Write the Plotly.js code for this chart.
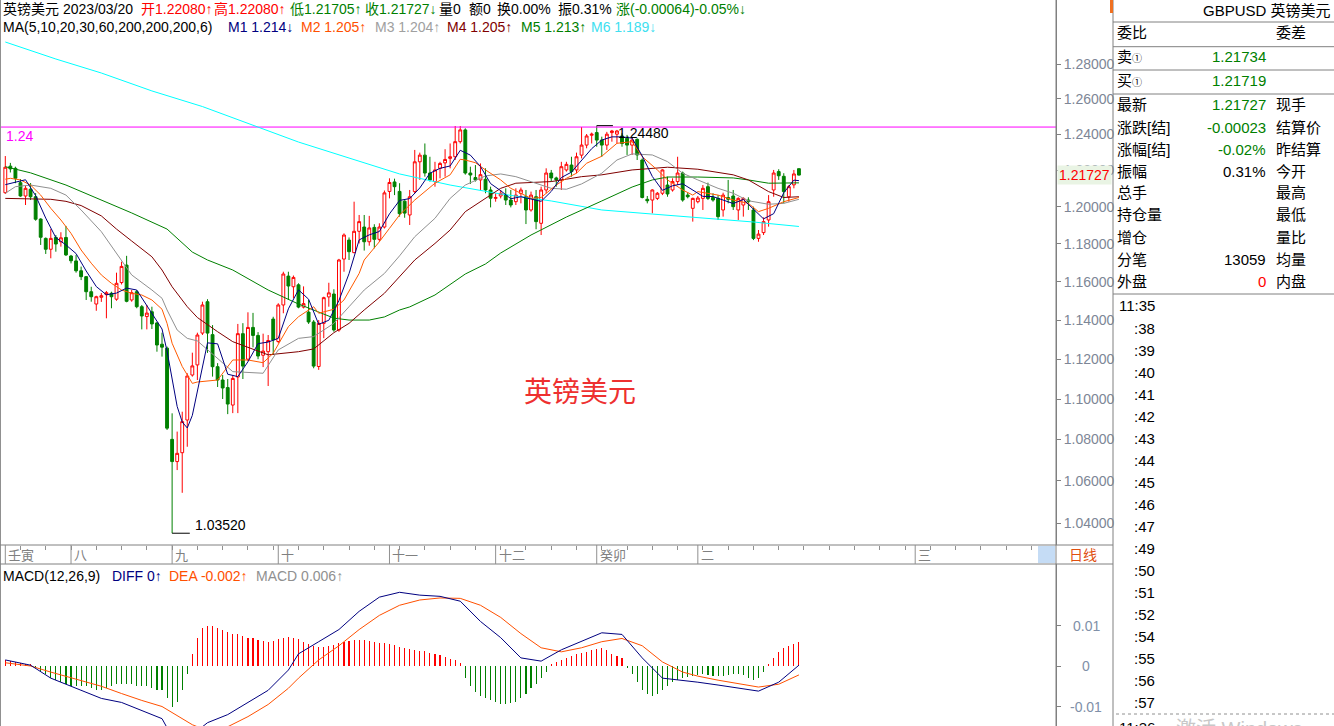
<!DOCTYPE html>
<html><head><meta charset="utf-8">
<script src="https://cdn.plot.ly/plotly-3.0.1.min.js"></script>
<style>html,body{margin:0;padding:0;background:#fff;overflow:hidden}#chart{width:1334px;height:726px}</style>
</head><body><div id="chart"></div>
<script>
// ---------- DATA (daily GBPUSD candles, index 0 .. 157) ----------
const opens = [
1.2076,1.2222,1.2210,1.2131,1.2058,1.2095,1.2054,1.1933,1.1829,1.1771,
1.1834,1.1811,1.1834,1.1735,1.1709,1.1657,1.1626,1.1547,1.1483,1.1518,
1.1532,1.1539,1.1508,1.1595,1.1687,1.1504,1.1547,1.1469,1.1418,1.1443,
1.1385,1.1276,1.1256,1.0801,1.0693,1.0736,1.0896,1.1120,1.1171,1.1333,
1.1495,1.1325,1.1162,1.1095,1.1057,1.0970,1.1110,1.1330,1.1200,1.1362,
1.1321,1.1220,1.1238,1.1405,1.1290,1.1478,1.1629,1.1573,1.1583,1.1467,
1.1441,1.1390,1.1163,1.1383,1.1520,1.1535,1.1349,1.1719,1.1820,1.1753,
1.1867,1.1890,1.1811,1.1888,1.1824,1.1890,1.2083,1.2135,1.2083,1.2030,
1.1955,1.2082,1.2246,1.2283,1.2184,1.2137,1.2210,1.2240,1.2265,1.2274,
1.2358,1.2424,1.2184,1.2159,1.2146,1.2150,1.2091,1.2045,1.2058,1.2063,
1.2036,1.2027,1.2072,1.2054,1.1982,1.2054,1.1910,1.2091,1.2184,1.2157,
1.2146,1.2201,1.2228,1.2201,1.2283,1.2339,1.2394,1.2409,1.2367,1.2339,
1.2409,1.2400,1.2390,1.2377,1.2339,1.2371,1.2256,1.2040,1.2036,1.2045,
1.2073,1.2118,1.2091,1.2137,1.2184,1.2063,1.1991,1.2027,1.2045,1.2109,
1.2050,1.2045,1.1982,1.2050,1.2058,1.1982,1.2009,1.2036,1.1982,1.1829,
1.1860,1.1928,1.2091,1.2192,1.2166,1.2054,1.2119,1.2208];
const highs = [
1.2278,1.2240,1.2219,1.2151,1.2113,1.2129,1.2074,1.1937,1.1834,1.1879,
1.1847,1.1862,1.1896,1.1741,1.1741,1.1679,1.1629,1.1573,1.1526,1.1540,
1.1551,1.1547,1.1647,1.1705,1.1736,1.1556,1.1556,1.1478,1.1478,1.1469,
1.1390,1.1335,1.1264,1.0929,1.0839,1.0937,1.1129,1.1233,1.1335,1.1495,
1.1508,1.1374,1.1180,1.1120,1.1100,1.1120,1.1380,1.1384,1.1440,1.1437,
1.1338,1.1330,1.1323,1.1417,1.1487,1.1652,1.1652,1.1632,1.1591,1.1575,
1.1504,1.1400,1.1400,1.1521,1.1594,1.1560,1.1720,1.1856,1.1834,1.2027,
1.1955,1.1955,1.1950,1.1905,1.1910,1.2088,1.2155,1.2153,1.2128,1.2035,
1.2091,1.2312,1.2297,1.2348,1.2274,1.2246,1.2246,1.2316,1.2348,1.2446,
1.2446,1.2433,1.2219,1.2228,1.2237,1.2210,1.2109,1.2073,1.2091,1.2100,
1.2091,1.2100,1.2104,1.2091,1.2082,1.2091,1.2109,1.2210,1.2201,1.2164,
1.2246,1.2246,1.2274,1.2297,1.2440,1.2401,1.2409,1.2448,1.2386,1.2413,
1.2424,1.2424,1.2405,1.2396,1.2377,1.2377,1.2265,1.2058,1.2095,1.2080,
1.2205,1.2164,1.2155,1.2274,1.2192,1.2076,1.2049,1.2058,1.2118,1.2131,
1.2073,1.2063,1.2076,1.2146,1.2091,1.2051,1.2051,1.2051,1.2000,1.1874,
1.1942,1.2063,1.2201,1.2205,1.2183,1.2118,1.2201,1.2208];
const lows = [
1.2069,1.2187,1.2128,1.2054,1.2009,1.2036,1.1924,1.1794,1.1746,1.1723,
1.1758,1.1785,1.1735,1.1696,1.1647,1.1608,1.1504,1.1495,1.1448,1.1494,
1.1409,1.1461,1.1500,1.1585,1.1492,1.1495,1.1461,1.1352,1.1352,1.1354,
1.1238,1.1213,1.0847,1.0352,1.0652,1.0543,1.0765,1.1112,1.1095,1.1323,
1.1232,1.1112,1.1060,1.1000,1.0925,1.0930,1.0930,1.1100,1.1190,1.1260,
1.1200,1.1160,1.1065,1.1222,1.1281,1.1435,1.1504,1.1513,1.1461,1.1460,
1.1380,1.1154,1.1146,1.1307,1.1469,1.1340,1.1340,1.1652,1.1714,1.1750,
1.1802,1.1764,1.1790,1.1776,1.1811,1.1882,1.2045,1.2063,1.1946,1.1940,
1.1901,1.2073,1.2146,1.2164,1.2137,1.2109,1.2155,1.2164,1.2210,1.2256,
1.2348,1.2175,1.2124,1.2137,1.2091,1.2073,1.1996,1.2027,1.2045,1.2009,
1.1996,1.2009,1.2018,1.1906,1.1973,1.1878,1.1847,1.2073,1.2137,1.2109,
1.2091,1.2192,1.2164,1.2183,1.2265,1.2321,1.2348,1.2330,1.2274,1.2312,
1.2358,1.2348,1.2330,1.2284,1.2284,1.2256,1.2045,1.2018,1.1964,1.2036,
1.2063,1.2054,1.2082,1.2118,1.2027,1.2045,1.1919,1.2018,1.1982,1.2036,
1.2027,1.1928,1.1946,1.2018,1.1982,1.1928,1.1946,1.1982,1.1820,1.1811,
1.1847,1.1892,1.2054,1.2146,1.2018,1.2027,1.2100,1.21705];
const closes = [
1.2216,1.2207,1.2155,1.2058,1.2100,1.2054,1.1932,1.1835,1.1771,1.1829,
1.1799,1.1832,1.1741,1.1710,1.1657,1.1626,1.1547,1.1521,1.1521,1.1526,
1.1542,1.1521,1.1591,1.1680,1.1497,1.1542,1.1469,1.1421,1.1436,1.1380,
1.1272,1.1261,1.0856,1.0693,1.0733,1.0888,1.1115,1.1166,1.1323,1.1478,
1.1333,1.1162,1.1095,1.1055,1.0975,1.1103,1.1330,1.1165,1.1362,1.1321,
1.1216,1.1241,1.1295,1.1298,1.1478,1.1640,1.1577,1.1622,1.1467,1.1485,
1.1390,1.1165,1.1383,1.1516,1.1541,1.1349,1.1714,1.1847,1.1758,1.1867,
1.1919,1.1811,1.1885,1.1824,1.1890,1.2075,1.2132,1.2109,1.1962,1.1965,
1.2054,1.2246,1.2283,1.2184,1.2146,1.2201,1.2237,1.2259,1.2274,1.2358,
1.2424,1.2184,1.2173,1.2146,1.2175,1.2091,1.2046,1.2050,1.2073,1.2036,
1.2009,1.2063,1.2091,1.1982,1.2063,1.1919,1.2091,1.2184,1.2157,1.2146,
1.2219,1.2232,1.2192,1.2274,1.2339,1.2390,1.2400,1.2367,1.2339,1.2400,
1.2418,1.2418,1.2348,1.2339,1.2367,1.2284,1.2050,1.2032,1.2091,1.2073,
1.2201,1.2069,1.2137,1.2184,1.2036,1.2054,1.2045,1.2047,1.2100,1.2045,
1.2036,1.1946,1.2063,1.2040,1.2000,1.2045,1.2045,1.2027,1.1829,1.1852,
1.1919,1.2027,1.2184,1.2169,1.2082,1.2109,1.2179,1.21727];

// moving averages (candle index -> value)
const ma5Idx = [0,2,4,6,8,10,12,14,16,18,20,22,24,26,28,30,31,32,33,34,35,36,37,38,40,42,44,46,48,50,52,54,56,58,60,62,64,66,68,70,72,74,76,78,80,82,84,86,88,90,92,94,96,98,100,102,104,106,108,110,112,114,116,118,120,122,124,126,128,130,132,134,136,138,140,142,144,146,148,150,152,154,156,157];
const ma5 = [1.2120,1.2135,1.2147,1.2060,1.1938,1.1833,1.1794,1.1748,1.1656,1.1574,1.1531,1.1540,1.1566,1.1556,1.1473,1.1396,1.1354,1.1241,1.1092,1.0963,1.0886,1.0857,1.0919,1.1045,1.1283,1.1278,1.1124,1.1112,1.1187,1.1279,1.1287,1.1306,1.1458,1.1557,1.1508,1.1378,1.1399,1.1501,1.1642,1.1821,1.1848,1.1866,1.1961,1.2034,1.2044,1.2102,1.2183,1.2210,1.2223,1.2310,1.2283,1.2220,1.2126,1.2087,1.2043,1.2054,1.2042,1.2029,1.2083,1.2159,1.2189,1.2251,1.2319,1.2367,1.2385,1.2385,1.2378,1.2278,1.2165,1.2089,1.2114,1.2125,1.2091,1.2056,1.2055,1.2038,1.2017,1.2039,1.1989,1.1934,1.1962,1.2076,1.2145,1.2142];
const ma10Idx = [0,1,3,5,7,9,11,13,15,17,19,21,23,25,27,29,31,32,33,35,37,38,42,45,48,51,53,56,58,61,62,65,67,70,71,74,76,78,81,85,88,90,91,93,95,98,100,102,104,106,109,111,113,115,118,121,124,126,129,131,134,136,137,141,144,147,149,151,154,157];
const ma10 = [1.2150,1.2155,1.2146,1.2118,1.2063,1.1991,1.1928,1.1856,1.1767,1.1697,1.1635,1.1591,1.1556,1.1539,1.1530,1.1504,1.1456,1.1383,1.1281,1.1163,1.1078,1.1085,1.1095,1.1196,1.1196,1.1182,1.1230,1.1366,1.1417,1.1469,1.1435,1.1456,1.1504,1.1643,1.1714,1.1811,1.1883,1.1955,1.2036,1.2128,1.2174,1.2260,1.2256,1.2241,1.2201,1.2146,1.2100,1.2073,1.2045,1.2050,1.2118,1.2155,1.2183,1.2238,1.2277,1.2349,1.2358,1.2274,1.2201,1.2146,1.2091,1.2063,1.2082,1.2063,1.2036,1.2018,1.1973,1.1991,1.2027,1.2050];
const ma20Idx = [0,2,5,9,12,15,19,22,25,29,31,32,34,36,38,45,51,54,58,61,65,68,71,75,78,81,85,88,91,95,98,101,104,108,111,114,118,121,124,128,131,134,137,141,144,147,151,154,157];
const ma20 = [1.2073,1.2109,1.2118,1.2100,1.2063,1.1982,1.1865,1.1750,1.1635,1.1556,1.1513,1.1452,1.1349,1.1306,1.1293,1.1137,1.1129,1.1247,1.1306,1.1315,1.1383,1.1469,1.1556,1.1643,1.1736,1.1838,1.1937,1.2045,1.2118,1.2168,1.2179,1.2164,1.2137,1.2100,1.2095,1.2124,1.2183,1.2256,1.2290,1.2284,1.2247,1.2183,1.2146,1.2100,1.2073,1.2032,1.2013,1.2018,1.2040];
const ma30Idx = [0,9,12,15,19,22,25,29,31,33,36,38,42,45,52,55,58,61,64,65,68,71,75,78,81,85,88,91,95,98,101,104,108,111,114,118,124,131,137,144,147,151,154,157];
const ma30 = [1.2045,1.2040,1.2029,1.2006,1.1950,1.1879,1.1815,1.1731,1.1661,1.1573,1.1469,1.1413,1.1340,1.1289,1.1222,1.1230,1.1238,1.1252,1.1313,1.1335,1.1383,1.1452,1.1539,1.1629,1.1714,1.1802,1.1874,1.1973,1.2045,1.2100,1.2128,1.2131,1.2137,1.2150,1.2164,1.2174,1.2201,1.2216,1.2205,1.2174,1.2146,1.2082,1.2050,1.2054];
const ma60Idx = [0,5,12,19,25,32,37,40,45,52,58,65,68,72,75,78,80,85,91,95,98,104,111,118,124,128,131,137,144,147,151,157];
const ma60 = [1.2219,1.2185,1.2118,1.2036,1.1966,1.1879,1.1756,1.1714,1.1661,1.1556,1.1483,1.1410,1.1400,1.1400,1.1416,1.1452,1.1468,1.1530,1.1640,1.1693,1.1751,1.1847,1.1944,1.2031,1.2107,1.2146,1.2162,1.2162,1.2157,1.2146,1.2128,1.2130];
const ma200Idx = [0,10,19,29,39,49,58,68,78,88,98,108,118,128,138,148,157];
const ma200 = [1.2928,1.2829,1.2748,1.2645,1.2556,1.2452,1.2356,1.2267,1.2179,1.2118,1.2069,1.2031,1.1982,1.1960,1.1939,1.1917,1.1893];

// MACD(12,26,9)
const macdIdx = [0,5,9,15,19,23,27,31,33,35,37,40,44,48,52,56,58,62,66,70,74,78,82,86,90,94,98,102,106,110,114,118,122,126,130,134,137,141,145,149,153,157];
const diff = [0.0015,0.0002,-0.0030,-0.0060,-0.0080,-0.0090,-0.0110,-0.0130,-0.0175,-0.0195,-0.0170,-0.0140,-0.0120,-0.0090,-0.0060,-0.0010,0.0030,0.0060,0.0090,0.0135,0.0170,0.0182,0.0175,0.0172,0.0160,0.0110,0.0070,0.0020,0.0012,0.0040,0.0062,0.0082,0.0078,0.0020,-0.0030,-0.0035,-0.0040,-0.0047,-0.0054,-0.0062,-0.0040,0.0002];
const dea = [0.0008,0.0000,-0.0015,-0.0035,-0.0050,-0.0068,-0.0085,-0.0100,-0.0115,-0.0130,-0.0145,-0.0160,-0.0150,-0.0125,-0.0095,-0.0055,-0.0030,0.0015,0.0050,0.0090,0.0125,0.0150,0.0163,0.0168,0.0167,0.0150,0.0120,0.0080,0.0045,0.0035,0.0045,0.0060,0.0068,0.0050,0.0010,-0.0015,-0.0025,-0.0035,-0.0043,-0.0052,-0.0045,-0.0022];
const macdBar = [
0.0014,0.0012,0.0010,0.0008,0.0006,0.0004,-0.0005,-0.0012,-0.0020,-0.0030,
-0.0035,-0.0040,-0.0045,-0.0050,-0.0050,-0.0050,-0.0050,-0.0055,-0.0060,-0.0060,
-0.0055,-0.0050,-0.0045,-0.0044,-0.0045,-0.0045,-0.0050,-0.0050,-0.0050,-0.0055,
-0.0060,-0.0060,-0.0080,-0.0100,-0.0090,-0.0060,-0.0020,0.0030,0.0070,0.0095,
0.0100,0.0098,0.0095,0.0090,0.0085,0.0080,0.0078,0.0075,0.0070,0.0068,
0.0065,0.0062,0.0060,0.0062,0.0066,0.0070,0.0072,0.0070,0.0066,0.0060,
0.0055,0.0050,0.0048,0.0048,0.0050,0.0052,0.0056,0.0060,0.0062,0.0064,
0.0065,0.0064,0.0062,0.0060,0.0058,0.0056,0.0055,0.0052,0.0048,0.0044,
0.0042,0.0040,0.0038,0.0036,0.0032,0.0030,0.0026,0.0022,0.0018,0.0014,
0.0008,-0.0030,-0.0050,-0.0065,-0.0075,-0.0080,-0.0085,-0.0090,-0.0095,-0.0095,
-0.0092,-0.0088,-0.0080,-0.0068,-0.0055,-0.0045,-0.0030,-0.0015,0.0005,0.0010,
0.0015,0.0020,0.0025,0.0030,0.0032,0.0035,0.0040,0.0042,0.0044,0.0040,
0.0030,0.0025,0.0020,-0.0005,-0.0020,-0.0040,-0.0060,-0.0070,-0.0075,-0.0070,
-0.0060,-0.0050,-0.0040,-0.0035,-0.0030,-0.0028,-0.0025,-0.0022,-0.0020,-0.0022,
-0.0024,-0.0025,-0.0024,-0.0022,-0.0020,-0.0020,-0.0022,-0.0030,-0.0035,-0.0030,
-0.0015,0.0005,0.0020,0.0035,0.0045,0.0050,0.0055,0.0060];

// axis / label texts
const priceTicks = [1.04,1.06,1.08,1.10,1.12,1.14,1.16,1.18,1.20,1.22,1.24,1.26,1.28];
const macdTicks = [0.01, 0, -0.01];
const monthLabels = ['壬寅','八','九','十','十一','十二','癸卯','二','三'];
const monthIdx = [0,13,33,54,76,97,117,137,180];
const maxHigh = 1.2448, maxHighIdx = 117;
const minLow = 1.0352, minLowIdx = 33;
const refLevel = 1.2440;
const lastPrice = 1.21727;
const timeList = ['11:35',':38',':39',':40',':41',':42',':43',':44',':45',':46',':47',':49',':50',':51',':52',':54',':55',':56',':57'];

// ---------- LAYOUT HELPERS ----------
const W = 1334, H = 726;
const F = 'Liberation Sans, Arial, Noto Sans CJK SC, sans-serif';
const px = x => x / W, py = y => 1 - y / H;
const annotations = [], shapes = [];
function txt(x, y, text, color, size, xanchor, extra) {
  annotations.push(Object.assign({xref:'paper', yref:'paper', x:px(x), y:py(y), text:text, showarrow:false,
    xanchor:xanchor||'left', yanchor:'middle', font:{family:F, size:size||14, color:color||'#000'}, borderpad:0}, extra||{}));
}
function hline(x0, x1, y, color, dash) {
  shapes.push({type:'line', xref:'paper', yref:'paper', x0:px(x0), x1:px(x1), y0:py(y), y1:py(y), line:{color:color||'#808080', width:1, dash:dash||'solid'}});
}
function vline(x, y0, y1, color) {
  shapes.push({type:'line', xref:'paper', yref:'paper', x0:px(x), x1:px(x), y0:py(y0), y1:py(y1), line:{color:color||'#808080', width:1}});
}

// ---------- HEADER ----------
const red = '#ff0000', grn = '#008000';
txt(2, 9, '英镑美元', '#000', 14);
txt(62, 9, '2023/03/20', '#000', 14);
txt(140, 9, '开1.22080↑', red, 14);
txt(213, 9, '高1.22080↑', red, 14);
txt(289, 9, '低1.21705↑', grn, 14);
txt(364, 9, '收1.21727↓', grn, 14);
txt(438, 9, '量0', '#000', 14);
txt(468, 9, '额0', '#000', 14);
txt(496, 9, '换0.00%', '#000', 14);
txt(557, 9, '振0.31%', '#000', 14);
txt(615, 9, '涨(-0.00064)-0.05%↓', grn, 14);

txt(2, 27, 'MA(5,10,20,30,60,200,200,200,6)', '#000', 14);
txt(227, 27, 'M1 1.214↓', '#000080', 14);
txt(300, 27, 'M2 1.205↑', '#ff5000', 14);
txt(374, 27, 'M3 1.204↑', '#a0a0a0', 14);
txt(446, 27, 'M4 1.205↑', '#800000', 14);
txt(520, 27, 'M5 1.213↑', '#008000', 14);
txt(590, 27, 'M6 1.189↓', '#40e0f0', 14);

txt(2, 576, 'MACD(12,26,9)', '#000', 14);
txt(111, 576, 'DIFF 0↑', '#000080', 14);
txt(168, 576, 'DEA -0.002↑', '#ff5000', 14);
txt(255, 576, 'MACD 0.006↑', '#909090', 14);

// watermark
txt(580, 390, '英镑美元', '#ee3030', 28, 'center', {font:{family:'Noto Sans CJK SC, sans-serif', size:28, color:'#ee3030'}});

// ---------- FRAME LINES ----------
vline(0.5, 0, 726, '#909090');
vline(1056, 0, 726, '#808080');
vline(1113, 0, 726, '#808080');
hline(0, 1113, 545, '#808080');
hline(0, 1113, 564, '#808080');
shapes.push({type:'rect', xref:'paper', yref:'paper', x0:px(1038), x1:px(1055), y0:py(563), y1:py(546), fillcolor:'#c5dcf5', line:{width:0}});
shapes.push({type:'rect', xref:'paper', yref:'paper', x0:px(1110), x1:px(1113), y0:py(13), y1:py(0), fillcolor:'#f07020', line:{width:0}});
txt(1083, 554, '日线', '#e05010', 14, 'center', {font:{family:'Noto Sans CJK SC, sans-serif', size:14, color:'#e05010'}});

// month labels & full-height ticks
monthLabels.forEach((m, k) => {
  shapes.push({type:'line', xref:'x', yref:'paper', x0:monthIdx[k], x1:monthIdx[k], y0:py(545), y1:py(564), line:{color:'#909090', width:1}});
  annotations.push({xref:'x', yref:'paper', x:monthIdx[k], y:py(554), text:m, showarrow:false, xanchor:'left', yanchor:'middle', xshift:1,
    font:{family:'Noto Sans CJK SC, sans-serif', size:13, color:'#808080'}});
});

// ---------- RIGHT PANEL ----------
txt(1332, 11, 'GBPUSD 英镑美元', '#000', 15, 'right');
[22, 46.7, 70, 94, 294].forEach(y => hline(1113, 1334, y, '#808080'));
const L = 1116, V = 1267, R = 1275;
txt(L, 33, '委比', '#000', 15); txt(R, 33, '委差', '#000', 15);
txt(L, 57, '卖<span style="font-size:10px">①</span>', '#000', 15); txt(V, 57, '1.21734', grn, 15, 'right');
txt(L, 81, '买<span style="font-size:10px">①</span>', '#000', 15); txt(V, 81, '1.21719', grn, 15, 'right');
const rows = [
  ['最新','1.21727',grn,'现手'],
  ['涨跌[结]','-0.00023',grn,'结算价'],
  ['涨幅[结]','-0.02%',grn,'昨结算'],
  ['振幅','0.31%','#000','今开'],
  ['总手','','#000','最高'],
  ['持仓量','','#000','最低'],
  ['增仓','','#000','量比'],
  ['分笔','13059','#000','均量'],
  ['外盘','0',red,'内盘']];
rows.forEach((r, k) => {
  const y = 105 + k * 22;
  txt(L, y, r[0], '#000', 15);
  if (r[1]) txt(V, y, r[1], r[2], 15, 'right');
  txt(R, y, r[3], '#000', 15);
});
timeList.forEach((t, k) => txt(1156, 306 + k * 22.01, t, '#000', 15, 'right'));
hline(1116, 1334, 714, '#909090', 'dot');
txt(1156, 727, '11:36', '#000', 15, 'right');
txt(1175, 729, '激活 Windows', '#c8c8c8', 20, 'left');

// ---------- PRICE PANEL EXTRAS ----------
const lg = v => Math.log10(v);
annotations.push({xref:'paper', yref:'y', x:px(4), y:lg(refLevel), yshift:-9, text:'1.24', showarrow:false, xanchor:'left', yanchor:'middle',
  font:{family:F, size:14, color:'#ff00ff'}});
annotations.push({xref:'x', yref:'y', x:maxHighIdx + 3.2, y:lg(maxHigh), yshift:-7, xshift:3, text:maxHigh.toFixed(5), showarrow:false, xanchor:'left', yanchor:'middle',
  font:{family:F, size:14, color:'#000'}});
annotations.push({xref:'x', yref:'y', x:minLowIdx + 3.5, y:lg(minLow), yshift:8, xshift:3, text:minLow.toFixed(5), showarrow:false, xanchor:'left', yanchor:'middle',
  font:{family:F, size:14, color:'#000'}});
annotations.push({xref:'paper', yref:'y', x:px(1057), y:lg(lastPrice), text:lastPrice.toFixed(5), showarrow:false, xanchor:'left', yanchor:'middle',
  bgcolor:'#e9f4e4', borderpad:1, font:{family:F, size:14, color:'#ff0000'}});
macdTicks.forEach(v => annotations.push({xref:'paper', yref:'y2', x:px(1086), y:v, text:String(v), showarrow:false, xanchor:'center', yanchor:'middle',
  font:{family:F, size:14, color:'#8090a8'}}));

// ---------- TRACES ----------
const idx = closes.map((_, i) => i);
const line = (x, y, color, ax) => ({type:'scatter', mode:'lines', x:x, y:y, xaxis:ax ? 'x2' : 'x', yaxis:ax ? 'y2' : 'y',
  line:{color:color, width:1}, hoverinfo:'skip'});
const traces = [
  {type:'scatter', mode:'lines', x:[-2, 210], y:[refLevel, refLevel], line:{color:'#ff00ff', width:1}, hoverinfo:'skip'},
  line(ma200Idx, ma200, '#00ffff'),
  line(ma60Idx, ma60, '#008000'),
  line(ma30Idx, ma30, '#800000'),
  line(ma20Idx, ma20, '#909090'),
  line(ma10Idx, ma10, '#ff5a00'),
  {type:'candlestick', x:idx, open:opens, high:highs, low:lows, close:closes, xaxis:'x', yaxis:'y',
   increasing:{line:{color:'#ff0000', width:1}, fillcolor:'#ffffff'},
   decreasing:{line:{color:'#008000', width:1}, fillcolor:'#008000'}, whiskerwidth:0, hoverinfo:'skip'},
  line(ma5Idx, ma5, '#000080'),
  {type:'scatter', mode:'lines', x:[maxHighIdx, maxHighIdx + 3.2], y:[maxHigh, maxHigh], line:{color:'#000', width:1}, hoverinfo:'skip'},
  {type:'scatter', mode:'lines', x:[minLowIdx, minLowIdx + 3.5], y:[minLow, minLow], line:{color:'#000', width:1}, hoverinfo:'skip'},
  {type:'bar', x:idx, y:macdBar, xaxis:'x2', yaxis:'y2', width:0.22,
   marker:{color:macdBar.map(v => v >= 0 ? '#ff0000' : '#008000'), line:{width:0}}, hoverinfo:'skip'},
  line(macdIdx, dea, '#ff5000', true),
  line(macdIdx, diff, '#000080', true)
];

const weekTicks = [];
for (let t = 3; t < 208; t += 5) weekTicks.push(t);
const xr = [-5.3 / 5.055, (1056 - 5.3) / 5.055];
const layout = {
  width:W, height:H, margin:{l:0, r:0, t:0, b:0}, paper_bgcolor:'#fff', plot_bgcolor:'#fff', showlegend:false,
  boxgap:0.2, bargap:0,
  xaxis:{domain:[0, px(1056)], range:xr, showgrid:false, zeroline:false, showticklabels:false, showline:false,
         ticks:'outside', ticklen:4, tickcolor:'#909090', tickvals:weekTicks, anchor:'y', rangeslider:{visible:false}},
  xaxis2:{domain:[0, px(1056)], range:xr, showgrid:false, zeroline:false, showticklabels:false, showline:false, ticks:'', anchor:'y2', matches:'x'},
  yaxis:{domain:[py(545), 1], type:'log', range:[0.107210 - (545 - 64) / 5090, 0.107210 + 64 / 5090], side:'right', anchor:'x',
         showgrid:false, zeroline:false, showline:true, linecolor:'#808080', ticks:'outside', ticklen:4, tickcolor:'#808080',
         tickvals:priceTicks, ticktext:priceTicks.map(v => v.toFixed(5)), tickfont:{family:F, size:14, color:'#7d8696'}},
  yaxis2:{domain:[0, py(564)], range:[-60 / 4050, 102 / 4050], side:'right', anchor:'x2', showgrid:false, zeroline:false,
          showline:true, linecolor:'#808080', ticks:'outside', ticklen:4, tickcolor:'#808080', tickvals:macdTicks, showticklabels:false},
  annotations:annotations, shapes:shapes
};
Plotly.newPlot('chart', traces, layout, {staticPlot:true, displayModeBar:false});
</script></body></html>
